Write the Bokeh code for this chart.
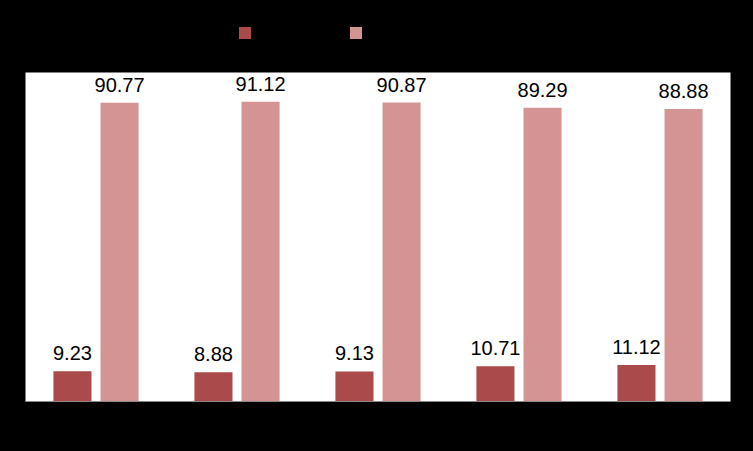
from bokeh.plotting import figure
from bokeh.layouts import column
from bokeh.models import ColumnDataSource, FactorRange, Legend, LegendItem, GlobalInlineStyleSheet
from bokeh.transform import dodge
from bokeh.core.properties import value
from bokeh.embed import file_html
from bokeh.resources import INLINE

categories = ["1", "2", "3", "4", "5"]
series_names = ["Series 1", "Series 2"]
series1 = [9.23, 8.88, 9.13, 10.71, 11.12]
series2 = [90.77, 91.12, 90.87, 89.29, 88.88]
colors = ["#AA4A4A", "#D49494"]

src = ColumnDataSource(dict(
    cat=categories, s1=series1, s2=series2,
    t1=[f"{v:.2f}" for v in series1],
    t2=[f"{v:.2f}" for v in series2],
))

# legend strip (top black band)
lg = figure(width=737, height=72, output_backend="svg", toolbar_location=None,
            x_range=(0, 1), y_range=(0, 1),
            x_axis_location=None, y_axis_location=None,
            min_border_left=0, min_border_right=0, min_border_top=0, min_border_bottom=0)
lg.background_fill_color = "black"
lg.border_fill_color = "black"
lg.outline_line_color = None
lg.grid.visible = False
d1 = lg.vbar(x=[-5], top=[-5], width=0.1, fill_color=colors[0], line_color=None)
d2 = lg.vbar(x=[-5], top=[-5], width=0.1, fill_color=colors[1], line_color=None)
for r, name, loc in ((d1, series_names[0], (211.5, 32.5)), (d2, series_names[1], (322.5, 32.5))):
    leg = Legend(items=[LegendItem(label=value(name), renderers=[r])], location=loc,
                 glyph_width=15, glyph_height=15, label_height=15,
                 label_text_font_size="10px", label_text_color="black",
                 label_text_font="Liberation Sans",
                 padding=0, margin=0, background_fill_alpha=0,
                 border_line_color=None)
    lg.add_layout(leg)

p = figure(width=737, height=363,
           x_range=FactorRange(factors=categories, range_padding=0),
           y_range=(0, 100),
           output_backend="svg", toolbar_location=None,
           y_axis_location=None,
           min_border_left=25, min_border_right=7,
           min_border_top=0, min_border_bottom=34)
p.background_fill_color = "white"
p.border_fill_color = "black"
p.outline_line_color = None
p.grid.visible = False
p.stylesheets = [GlobalInlineStyleSheet(css="html, body { background: #000; }")]

off = 0.167
bw = 0.27
r1 = p.vbar(x=dodge('cat', -off, range=p.x_range), top='s1', width=bw, source=src,
            fill_color=colors[0], line_color=None)
r2 = p.vbar(x=dodge('cat', off, range=p.x_range), top='s2', width=bw, source=src,
            fill_color=colors[1], line_color=None)

for col, tcol, o in (("s1", "t1", -off), ("s2", "t2", off)):
    p.text(x=dodge('cat', o, range=p.x_range), y=col, text=tcol, source=src,
           text_font=value("Liberation Sans"), text_font_size="20px",
           text_align="center", text_baseline="alphabetic", y_offset=-18,
           text_color="black")

p.xaxis.axis_line_color = "#888888"
p.xaxis.axis_line_width = 1
p.xaxis.major_tick_line_color = None
p.xaxis.minor_tick_line_color = None
p.xaxis.major_label_text_color = "black"
p.xaxis.major_label_text_font = "Liberation Sans"
p.xaxis.major_label_text_font_size = "10px"

layout = column(lg, p, spacing=0)
open("out.html", "w").write(file_html(layout, INLINE))
